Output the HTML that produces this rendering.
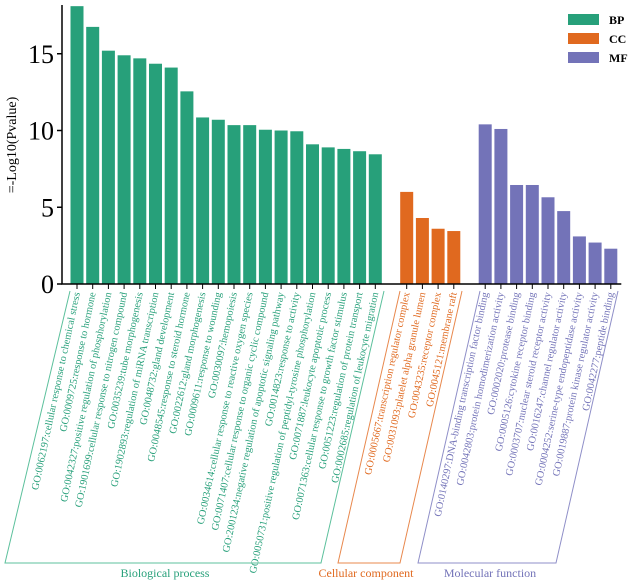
<!DOCTYPE html>
<html><head><meta charset="utf-8"><style>
body{margin:0;background:#fff}
svg{display:block;font-family:"Liberation Serif",serif}
</style></head><body>
<svg id="chart" width="633" height="584" viewBox="0 0 633 584">
<g id="bars"></g>
<g id="labels"></g>
<g id="axis"></g>
<text transform="translate(16,145) rotate(-90)" text-anchor="middle" font-size="14">=-Log10(Pvalue)</text>
<g>
<rect x="568" y="14" width="31" height="11" fill="#27a07a"/>
<text x="609" y="24" font-size="12" font-weight="bold">BP</text>
<rect x="568" y="33" width="31" height="11" fill="#e0691f"/>
<text x="609" y="43" font-size="12" font-weight="bold">CC</text>
<rect x="568" y="52" width="31" height="11" fill="#7373b8"/>
<text x="609" y="62" font-size="12" font-weight="bold">MF</text>
</g>
<g fill="none" stroke-width="1">
<polyline points="70,291 5,563 321,563 384,291" stroke="#5cc09c"/>
<polyline points="400,291 338,563 400,563 462,291" stroke="#e8884d"/>
<polyline points="480,291 418,563 556,563 618,291" stroke="#8f8fc8"/>
</g>
<text x="165" y="577" text-anchor="middle" font-size="12" fill="#27a07a">Biological process</text>
<text x="366" y="577" text-anchor="middle" font-size="12" fill="#e0691f">Cellular component</text>
<text x="490" y="577" text-anchor="middle" font-size="12" fill="#7373b8">Molecular function</text>
</svg>
<script>
const bpTerms=["GO:0062197:cellular response to chemical stress","GO:0009725:response to hormone","GO:0042327:positive regulation of phosphorylation","GO:1901699:cellular response to nitrogen compound","GO:0035239:tube morphogenesis","GO:1902893:regulation of miRNA transcription","GO:0048732:gland development","GO:0048545:response to steroid hormone","GO:0022612:gland morphogenesis","GO:0009611:response to wounding","GO:0030097:hemopoiesis","GO:0034614:cellular response to reactive oxygen species","GO:0071407:cellular response to organic cyclic compound","GO:2001234:negative regulation of apoptotic signaling pathway","GO:0014823:response to activity","GO:0050731:positive regulation of peptidyl-tyrosine phosphorylation","GO:0071887:leukocyte apoptotic process","GO:0071363:cellular response to growth factor stimulus","GO:0051223:regulation of protein transport","GO:0002685:regulation of leukocyte migration"];
const bpValues=[18.1,16.75,15.2,14.9,14.7,14.35,14.1,12.55,10.85,10.7,10.35,10.35,10.05,10.0,9.95,9.1,8.9,8.8,8.65,8.45];
const ccTerms=["GO:0005667:transcription regulator complex","GO:0031093:platelet alpha granule lumen","GO:0043235:receptor complex","GO:0045121:membrane raft"];
const ccValues=[6.0,4.3,3.6,3.45];
const mfTerms=["GO:0140297:DNA-binding transcription factor binding","GO:0042803:protein homodimerization activity","GO:0002020:protease binding","GO:0005126:cytokine receptor binding","GO:0003707:nuclear steroid receptor activity","GO:0016247:channel regulator activity","GO:0004252:serine-type endopeptidase activity","GO:0019887:protein kinase regulator activity","GO:0042277:peptide binding"];
const mfValues=[10.4,10.1,6.45,6.45,5.65,4.75,3.1,2.7,2.3];
const yTicks=[0,5,10,15];

const NS="http://www.w3.org/2000/svg";
const x0=70.5, step=15.7, bw=13, base=284, ppu=15.35;
const y=v=>base-v*ppu;
const xs=i=>x0+i*step;
const groups=[{t:bpTerms,v:bpValues,start:0,c:"#27a07a",n:"bp"},{t:ccTerms,v:ccValues,start:bpTerms.length+1,c:"#e0691f",n:"cc"},{t:mfTerms,v:mfValues,start:bpTerms.length+ccTerms.length+2,c:"#7373b8",n:"mf"}];
const bars=document.getElementById("bars"),labels=document.getElementById("labels"),axis=document.getElementById("axis");
let lastX=0;
groups.forEach(g=>{g.v.forEach((v,i)=>{
 const x=xs(g.start+i);lastX=x+bw;
 const r=document.createElementNS(NS,"rect");
 
 
 r.setAttribute("x",x);r.setAttribute("y",y(v));r.setAttribute("width",bw);r.setAttribute("height",base-y(v));r.setAttribute("fill",g.c);
 bars.appendChild(r);
 const tk=document.createElementNS(NS,"line");
 
 
 tk.setAttribute("x1",x+bw/2);tk.setAttribute("x2",x+bw/2);tk.setAttribute("y1",base);tk.setAttribute("y2",base+5);tk.setAttribute("stroke","#000");
 axis.appendChild(tk);
 const t=document.createElementNS(NS,"text");
 
 
 t.setAttribute("transform","translate("+(x+bw/2+3)+","+(base+9)+") rotate(-78)");
 t.setAttribute("text-anchor","end");t.setAttribute("font-size","10.3");t.setAttribute("fill",g.c);
 t.textContent=g.t[i];labels.appendChild(t);
});});
const ax=document.createElementNS(NS,"path");


ax.setAttribute("d","M62,5 V"+base+" H"+(lastX+4));ax.setAttribute("stroke","#000");ax.setAttribute("fill","none");ax.setAttribute("stroke-width","1.5");
axis.appendChild(ax);
yTicks.forEach(v=>{
 const l=document.createElementNS(NS,"line");
 
 
 l.setAttribute("x1",57);l.setAttribute("x2",62);l.setAttribute("y1",y(v));l.setAttribute("y2",y(v));l.setAttribute("stroke","#000");l.setAttribute("stroke-width","1.5");
 axis.appendChild(l);
 const t=document.createElementNS(NS,"text");
 
 
 t.setAttribute("x",54);t.setAttribute("y",y(v)+9);t.setAttribute("text-anchor","end");t.setAttribute("font-size","26");
 t.textContent=v;axis.appendChild(t);
});
</script>
</body></html>
